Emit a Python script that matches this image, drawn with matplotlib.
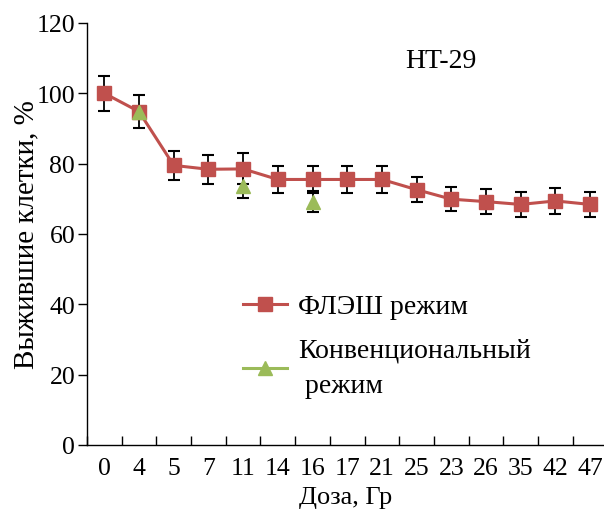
import numpy as np
import matplotlib
matplotlib.use('Agg')
import matplotlib.pyplot as plt

plt.rcParams['font.family'] = ['Liberation Serif', 'DejaVu Serif']

doses = ['0', '4', '5', '7', '11', '14', '16', '17', '21', '25', '23', '26', '35', '42', '47']
flash = [100, 94.8, 79.5, 78.4, 78.5, 75.5, 75.5, 75.5, 75.5, 72.6, 69.9, 69.2, 68.4, 69.4, 68.4]
flash_err = [5, 4.8, 4.2, 4.2, 4.4, 3.8, 3.8, 3.8, 3.8, 3.5, 3.5, 3.6, 3.5, 3.6, 3.5]
conv = [np.nan, 94.8, np.nan, np.nan, 73.7, np.nan, 69.2, np.nan, np.nan, np.nan,
        np.nan, np.nan, np.nan, np.nan, np.nan]
conv_err = [0, 0, 0, 0, 3.6, 0, 2.9, 0, 0, 0, 0, 0, 0, 0, 0]

RED = '#C0504D'
GREEN = '#9BBB59'

fig = plt.figure(figsize=(6.04, 5.10), dpi=100)
ax = fig.add_axes([0.144, 0.1255, 0.856, 0.8275])
x = np.arange(len(doses))

ax.errorbar(x, flash, yerr=flash_err, fmt='none', ecolor='black', elinewidth=1.3,
            capsize=4.5, capthick=1.5, zorder=2)
ax.errorbar(x, conv, yerr=conv_err, fmt='none', ecolor='black', elinewidth=1.3,
            capsize=4.5, capthick=1.5, zorder=2)
ax.plot(x, flash, color=RED, lw=2.2, marker='s', ms=9.5, mec=RED, zorder=3,
        label='ФЛЭШ режим')
ax.plot(x, conv, color=GREEN, lw=2.2, marker='^', ms=9.5, mec=GREEN, zorder=4,
        label='Конвенциональный\n режим')

ax.set_xlim(-0.5, 14.4)
ax.set_ylim(0, 120)
ax.set_yticks(range(0, 121, 20))
ax.set_xticks(x)
ax.set_xticklabels(doses)
ax.set_xticks(np.arange(-0.5, 14.4, 1), minor=True)
ax.tick_params(axis='x', which='major', length=0, labelsize=18.5, pad=9)
ax.tick_params(axis='x', which='minor', direction='in', length=6.5, width=1)
ax.tick_params(axis='y', direction='out', length=6.5, width=1, labelsize=18.5, pad=2)
for s in ['top', 'right']:
  ax.spines[s].set_visible(False)
for s in ['left', 'bottom']:
  ax.spines[s].set_linewidth(1)

ax.set_xlabel('Доза, Гр', fontsize=19, labelpad=5)
ax.set_ylabel('Выжившие клетки, %', fontsize=21)
ax.yaxis.set_label_coords(-0.093, 0.5)
ax.text(0.685, 0.91, 'HT-29', transform=ax.transAxes, fontsize=20, ha='center', va='center')

leg = ax.legend(loc='upper left', bbox_to_anchor=(0.28, 0.384), frameon=False, fontsize=20,
                handlelength=1.6, labelspacing=0.65, handletextpad=0.4, borderaxespad=0)
leg.get_texts()[1].set_linespacing(1.55)

fig.savefig('out.png', dpi=100)
